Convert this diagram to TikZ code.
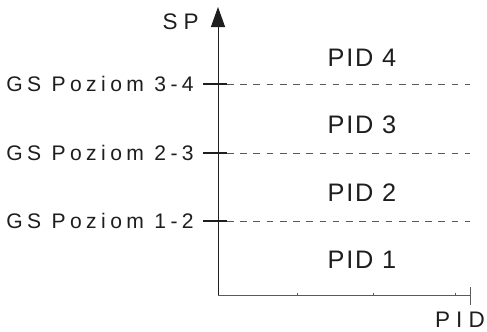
\documentclass[tikz,border=0pt]{standalone}
\usepackage{fontspec}
\setmainfont{Liberation Sans}
\usetikzlibrary{arrows.meta}
\definecolor{plotfg}{HTML}{1E1E1E}
\definecolor{plotgray}{HTML}{5A5A5A}

\begin{document}
\begin{tikzpicture}[x=0.025cm,y=-0.025cm,>={Triangle[length=5mm,width=3.5mm]}]
  \tikzstyle{levellabel}=[font=\fontsize{15}{17}\selectfont\addfontfeatures{LetterSpace=21}, text=plotfg, anchor=east, inner sep=0pt]
  \tikzstyle{region}=[font=\fontsize{18}{20}\selectfont\addfontfeatures{LetterSpace=7}, text=plotfg, inner sep=0pt]
  \tikzstyle{axislabel}=[font=\fontsize{16}{18}\selectfont\addfontfeatures{LetterSpace=27}, text=plotfg, inner sep=0pt]
  \tikzstyle{yaxis}=[->, draw=plotfg, line width=0.7pt]
  \tikzstyle{xaxis}=[draw=plotgray, line width=0.7pt]
  \tikzstyle{levtick}=[draw=plotfg, line width=1.4pt]
  \tikzstyle{levdash}=[draw=plotgray, line width=0.65pt, dash pattern=on 4.8pt off 4.6pt]

  \path[use as bounding box] (0,0) rectangle (487,331);

  \coordinate (origin) at (218,295);
  \coordinate (ytop) at (218,7);
  \coordinate (xend) at (470,295);
  \coordinate (xtickup) at (470,287);
  \coordinate (xtickdown) at (470,305);
  \draw[yaxis] (origin) -- (ytop);
  \draw[xaxis] (origin) -- (xend);
  \draw[xaxis] (xtickup) -- (xtickdown);
  \foreach \x/\i in {297/1,373/2,455/3} {
    \coordinate (xt\i) at (\x,295);
    \coordinate (xtt\i) at (\x,293);
    \draw[xaxis] (xt\i) -- (xtt\i);
  }

  \node[axislabel, anchor=east] (splabel) at (199,22) {SP};
  \node[axislabel] (pidlabel) at (460,320) {PID};

  \foreach \y/\i/\lv in {84/3/3-4,153/2/2-3,221/1/1-2} {
    \node[levellabel] (gs\i) at (194,\y) {GS Poziom \lv};
    \coordinate (tl\i) at (203,\y);
    \coordinate (tm\i) at (227,\y);
    \coordinate (tr\i) at (470,\y);
    \draw[levtick] (tl\i) -- (tm\i);
    \draw[levdash] (tm\i) -- (tr\i);
  }

  \foreach \y/\i in {58/4,125/3,193/2,260/1} {
    \node[region] (pid\i) at (362,\y) {PID \i};
  }
\end{tikzpicture}
\end{document}
